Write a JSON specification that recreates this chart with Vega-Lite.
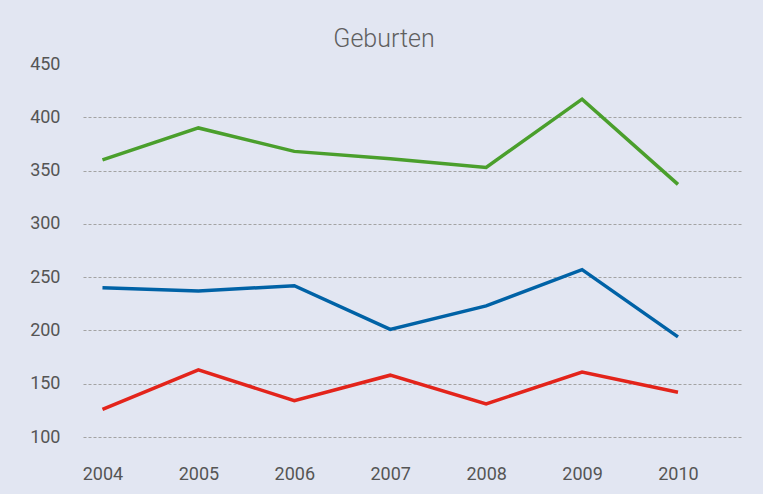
{
  "$schema": "https://vega.github.io/schema/vega-lite/v6.json",
  "width": 658,
  "height": 373,
  "autosize": {"type": "none"},
  "padding": {"left": 83, "top": 64, "right": 22, "bottom": 57},
  "background": "#e2e6f2",
  "title": {
    "text": "Geburten",
    "frame": "group",
    "anchor": "middle",
    "dx": -28,
    "dy": 34,
    "offset": 17,
    "baseline": "alphabetic",
    "font": "Roboto",
    "fontSize": 25,
    "fontWeight": 300,
    "color": "#5f5f5f"
  },
  "config": {
    "view": {"stroke": null},
    "font": "Roboto"
  },
  "data": {
    "values": [
      {"Jahr": 2004, "Serie": "A", "Geburten": 360},
      {"Jahr": 2005, "Serie": "A", "Geburten": 390},
      {"Jahr": 2006, "Serie": "A", "Geburten": 368},
      {"Jahr": 2007, "Serie": "A", "Geburten": 361},
      {"Jahr": 2008, "Serie": "A", "Geburten": 353},
      {"Jahr": 2009, "Serie": "A", "Geburten": 417},
      {"Jahr": 2010, "Serie": "A", "Geburten": 337},
      {"Jahr": 2004, "Serie": "B", "Geburten": 240},
      {"Jahr": 2005, "Serie": "B", "Geburten": 237},
      {"Jahr": 2006, "Serie": "B", "Geburten": 242},
      {"Jahr": 2007, "Serie": "B", "Geburten": 201},
      {"Jahr": 2008, "Serie": "B", "Geburten": 223},
      {"Jahr": 2009, "Serie": "B", "Geburten": 257},
      {"Jahr": 2010, "Serie": "B", "Geburten": 194},
      {"Jahr": 2004, "Serie": "C", "Geburten": 126},
      {"Jahr": 2005, "Serie": "C", "Geburten": 163},
      {"Jahr": 2006, "Serie": "C", "Geburten": 134},
      {"Jahr": 2007, "Serie": "C", "Geburten": 158},
      {"Jahr": 2008, "Serie": "C", "Geburten": 131},
      {"Jahr": 2009, "Serie": "C", "Geburten": 161},
      {"Jahr": 2010, "Serie": "C", "Geburten": 142}
    ]
  },
  "mark": {"type": "line", "strokeWidth": 3.5, "strokeCap": "butt", "strokeJoin": "miter"},
  "encoding": {
    "x": {
      "field": "Jahr",
      "type": "quantitative",
      "scale": {"domain": [2003.797, 2010.657], "nice": false, "zero": false},
      "axis": {
        "title": null,
        "values": [2004, 2005, 2006, 2007, 2008, 2009, 2010],
        "format": "d",
        "grid": false,
        "domain": false,
        "ticks": false,
        "labelPadding": 28,
        "labelFontSize": 18,
        "labelColor": "#555555",
        "labelFont": "Roboto",
        "labelBaseline": "top"
      }
    },
    "y": {
      "field": "Geburten",
      "type": "quantitative",
      "scale": {"domain": [100, 450], "nice": false, "zero": false},
      "axis": {
        "title": null,
        "values": [100, 150, 200, 250, 300, 350, 400, 450],
        "domain": false,
        "ticks": false,
        "labelPadding": 23,
        "labelFontSize": 18,
        "labelColor": "#555555",
        "labelFont": "Roboto",
        "grid": true,
        "gridColor": "#a3a3a3",
        "gridDash": [3, 2],
        "gridWidth": 1,
        "gridOpacity": {"condition": {"test": "datum.value == 450", "value": 0}, "value": 1}
      }
    },
    "color": {
      "field": "Serie",
      "type": "nominal",
      "scale": {"domain": ["A", "B", "C"], "range": ["#4a9f2c", "#0062a6", "#e3241b"]},
      "legend": null
    }
  }
}
